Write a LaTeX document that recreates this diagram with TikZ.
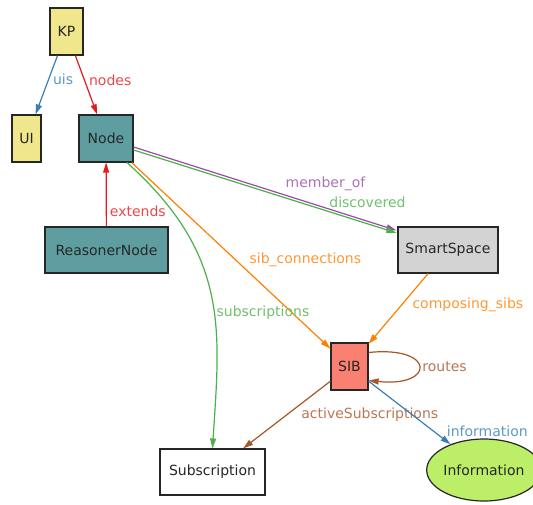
\documentclass[tikz,border=0pt]{standalone}
\usepackage{fontspec}
\setmainfont{DejaVu Sans}
\usetikzlibrary{arrows.meta,shapes.geometric}
\definecolor{khaki}{HTML}{F0E68C}
\definecolor{cadet}{HTML}{5F9EA0}
\definecolor{lgray}{HTML}{D3D3D3}
\definecolor{salmon}{HTML}{FA8072}
\definecolor{olive2}{HTML}{BCEE68}
\definecolor{ered}{HTML}{E41A1C}
\definecolor{eblue}{HTML}{377EB8}
\definecolor{egreen}{HTML}{4DAF4A}
\definecolor{epurple}{HTML}{984EA3}
\definecolor{eorange}{HTML}{FF7F00}
\definecolor{ebrown}{HTML}{A65628}
\begin{document}
\begin{tikzpicture}[x=1pt,y=-1pt,
        box/.style={draw=black!85,line width=1.2pt,inner sep=0pt,text=black!85,font=\fontsize{14}{16}\selectfont},
        lbl/.style={font=\fontsize{14}{16}\selectfont,inner sep=1pt},
        edge/.style={line width=1.2pt,-{Triangle[length=10pt,width=6pt]}}]
        \useasboundingbox (0,0) rectangle (533,504);

        \node[box,fill=khaki,minimum width=33pt,minimum height=47pt] (kp) at (66.5,31.5) {KP};
        \node[box,fill=khaki,minimum width=29pt,minimum height=47pt] (ui) at (26.5,138.5) {UI};
        \node[box,fill=cadet,minimum width=54pt,minimum height=47pt] (node) at (106,138.5) {Node};
        \node[box,fill=cadet,minimum width=123pt,minimum height=46pt] (rn) at (106.5,250) {ReasonerNode};
        \node[box,fill=lgray,minimum width=100pt,minimum height=46pt] (ss) at (448,250) {SmartSpace};
        \node[box,fill=salmon,minimum width=37pt,minimum height=47pt] (sib) at (349.5,366.5) {SIB};
        \node[box,fill=white,minimum width=105pt,minimum height=46pt] (sub) at (212.5,472) {Subscription};
        \node[box,ellipse,fill=olive2,minimum width=114pt,minimum height=62pt] (info) at (484,470) {Information};

        \draw[edge,eblue] (kp) -- node[lbl,pos=0.41,anchor=west,xshift=3pt,text=eblue!80] {uis} (ui);
        \draw[edge,ered] (kp) -- node[lbl,pos=0.42,anchor=west,xshift=3pt,text=ered!80] {nodes} (node);
        \draw[edge,ered] (rn) -- node[lbl,pos=0.23,anchor=west,xshift=2pt,text=ered!80] {extends} (node);

        \draw[edge,epurple] ([yshift=-8.5pt]node.east) -- node[lbl,pos=0.73,yshift=24pt,text=epurple!80] {member\_of} ([xshift=-1pt,yshift=-4pt]ss.north west);
        \draw[edge,egreen] ([yshift=-11.5pt]node.east) -- node[lbl,pos=0.89,yshift=22pt,text=egreen!80] {discovered} ([xshift=-1pt,yshift=-6.5pt]ss.north west);

        \draw[edge,eorange] (node) -- node[lbl,pos=0.52,anchor=west,xshift=13pt,text=eorange!80] {sib\_connections} (sib);
        \draw[edge,egreen] ([xshift=21pt]node.south) .. controls (230,255) and (220,330) .. node[lbl,pos=0.56,anchor=west,xshift=1pt,text=egreen!80] {subscriptions} (sub.north);
        \draw[edge,eorange] (ss) -- node[lbl,pos=0.44,anchor=west,xshift=9pt,text=eorange!80] {composing\_sibs} (sib);

        \draw[edge,ebrown] ([yshift=14pt]sib.east) .. controls +(67,-7) and +(67,7) .. node[lbl,pos=0.5,anchor=west,xshift=2pt,text=ebrown!80] {routes} ([yshift=-14pt]sib.east);
        \draw[edge,ebrown] (sib) -- node[lbl,pos=0.5,anchor=west,xshift=13pt,text=ebrown!80] {activeSubscriptions} (sub);
        \draw[edge,eblue] (sib) -- node[lbl,pos=0.79,anchor=west,xshift=12pt,text=eblue!80] {information} (info);
    \end{tikzpicture}
\end{document}
